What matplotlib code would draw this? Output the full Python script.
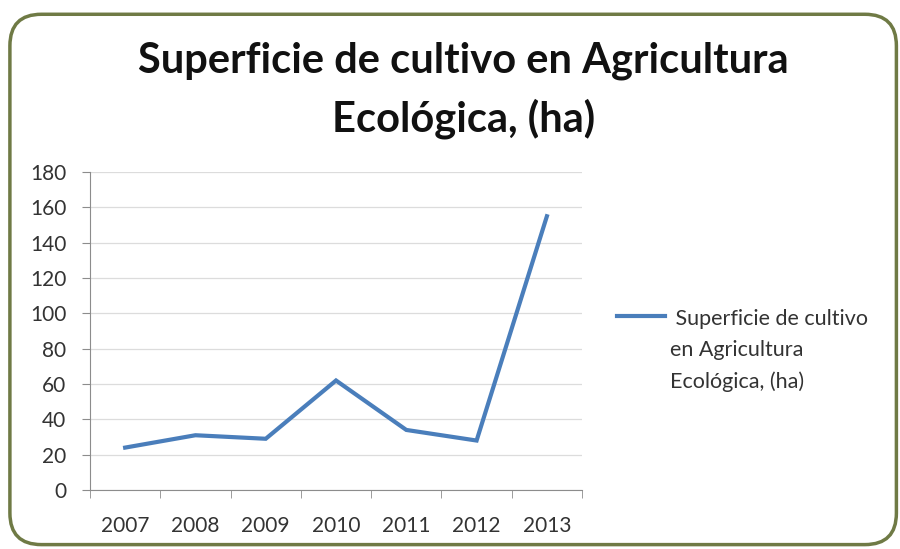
# -*- coding: utf-8 -*-

import matplotlib
import matplotlib.pyplot as plt
import numpy as np
from matplotlib.patches import FancyBboxPatch

matplotlib.use('Agg')
plt.rcParams['font.family'] = ['Lato', 'DejaVu Sans']

years = ['2007', '2008', '2009', '2010', '2011', '2012', '2013']
superficie = [24, 31, 29, 62, 34, 28, 155]
title = 'Superficie de cultivo en Agricultura\nEcológica, (ha)'
series_label = ' Superficie de cultivo\nen Agricultura\nEcológica, (ha)'
y_ticks = list(range(0, 181, 20))

fig = plt.figure(figsize=(9, 5.49), dpi=100)
fig.patch.set_facecolor('white')

# rounded frame around the whole chart
frame = FancyBboxPatch((0.011, 0.008), 0.985, 0.966, boxstyle='round,pad=0,rounding_size=0.035',
                       transform=fig.transFigure, facecolor='none', edgecolor='#6f7a45',
                       lw=2.5, mutation_aspect=900 / 549, zorder=-1)
fig.patches.append(frame)

fig.text(0.515, 0.836, title, ha='center', va='center', fontsize=30, fontweight='bold',
         color='#111111', linespacing=1.55)

ax = fig.add_axes([0.1, 0.1075, 0.5467, 0.579])
ax.set_facecolor('none')
x = np.arange(len(years))
ax.plot(x, superficie, color='#4a7ebb', lw=3, label=series_label, solid_joinstyle='miter')

ax.set_xlim(-0.5, len(years) - 0.5)
ax.set_ylim(0, 180)
ax.set_yticks(y_ticks)
ax.set_xticks(x)
ax.set_xticklabels(years)
ax.set_xticks(np.arange(-0.5, len(years)), minor=True)
ax.tick_params(axis='x', which='major', length=0, pad=19, labelsize=15, colors='#333333')
ax.tick_params(axis='x', which='minor', length=6, color='#8c8c8c')
ax.tick_params(axis='y', length=6, color='#8c8c8c', labelsize=15, labelcolor='#333333', pad=11)
ax.grid(axis='y', color='#dcdcdc', lw=0.9)
ax.set_axisbelow(True)
for s in ('top', 'right'):
    ax.spines[s].set_visible(False)
for s in ('left', 'bottom'):
    ax.spines[s].set_color('#8c8c8c')

leg = ax.legend(loc='upper left', bbox_to_anchor=(0.685, 0.438), bbox_transform=fig.transFigure,
                frameon=False, fontsize=15.5, handlelength=2.25, handletextpad=0.25,
                labelcolor='#333333', borderpad=0, borderaxespad=0)
leg.get_texts()[0].set_linespacing(1.7)
# put the legend line next to the first line of the label
for col in leg._legend_handle_box.get_children():
    for row in col.get_children():
        row.align = 'top'

fig.savefig('out.png', dpi=100)
